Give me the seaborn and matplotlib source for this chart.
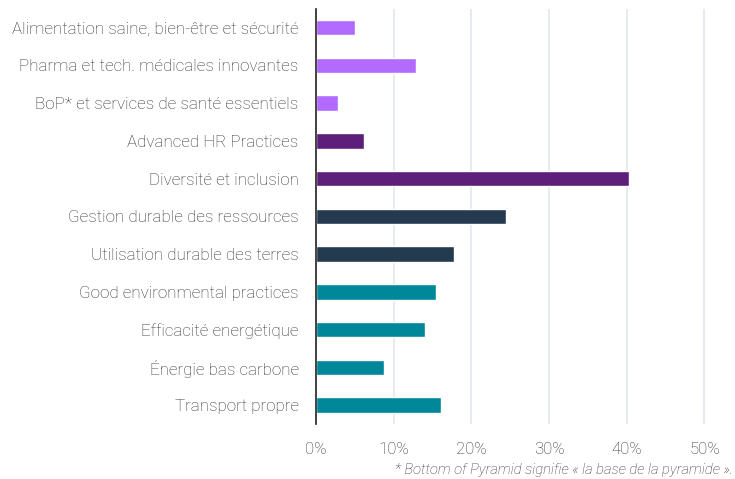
import matplotlib
matplotlib.use('Agg')
from matplotlib import pyplot as plt
from matplotlib.ticker import FuncFormatter
import seaborn as sns
import pandas as pd

sns.set_style('white')
plt.rcParams['font.family'] = ['Roboto', 'DejaVu Sans']

categories = [
    'Alimentation saine, bien-être et sécurité',
    'Pharma et tech. médicales innovantes',
    'BoP* et services de santé essentiels',
    'Advanced HR Practices',
    'Diversité et inclusion',
    'Gestion durable des ressources',
    'Utilisation durable des terres',
    'Good environmental practices',
    'Efficacité energétique',
    'Énergie bas carbone',
    'Transport propre',
]
values = [0.050, 0.129, 0.028, 0.062, 0.403, 0.245, 0.177, 0.155, 0.140, 0.087, 0.161]
colors = ['#b36bff', '#b36bff', '#b36bff', '#5e1f7a', '#5e1f7a', '#233a4f',
          '#233a4f', '#00889a', '#00889a', '#00889a', '#00889a']
xticks = [0, 0.1, 0.2, 0.3, 0.4, 0.5]
footnote = '* Bottom of Pyramid signifie « la base de la pyramide ».'

df = pd.DataFrame({'cat': categories, 'val': values})

fig = plt.figure(figsize=(7.35, 4.79), dpi=100)
ax = fig.add_axes([0.430, 0.115, 0.557, 0.867])
sns.barplot(data=df, x='val', y='cat', hue='cat', palette=colors, legend=False,
            width=0.41, saturation=1, ax=ax)

ax.set_xlim(0, 0.527)
ax.set_ylim(10.5, -0.5)
ax.set_xticks(xticks)
ax.xaxis.set_major_formatter(FuncFormatter(lambda x, pos: '{:.0f}%'.format(x * 100)))
ax.grid(axis='x', color='#e2e8ef', linewidth=1.2)
ax.set_axisbelow(True)
ax.set_xlabel('')
ax.set_ylabel('')
for s in ['top', 'right', 'bottom']:
    ax.spines[s].set_visible(False)
ax.spines['left'].set_color('#222222')
ax.spines['left'].set_linewidth(1.2)
ax.tick_params(axis='y', length=0, labelsize=12.25, labelcolor='#333333', pad=12.5)
ax.tick_params(axis='x', length=0, labelsize=12.1, labelcolor='#333333', pad=13)
for lab in ax.get_yticklabels() + ax.get_xticklabels():
    lab.set_fontweight('light')

fig.text(0.997, 0.004, footnote, ha='right', va='bottom', fontsize=10.6,
         style='italic', fontweight='light', color='#333333')

plt.savefig('out.png', dpi=100)
